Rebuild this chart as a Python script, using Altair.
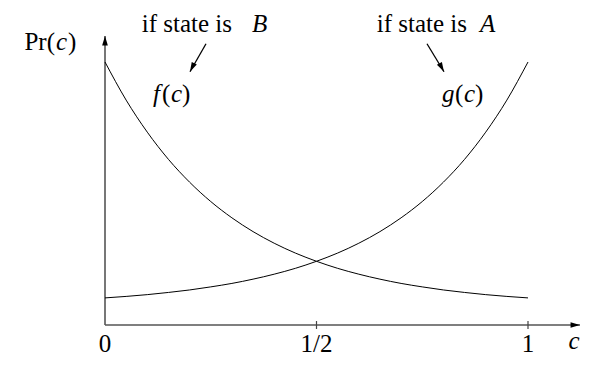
import altair as alt
import pandas as pd

# ---- data ----
c_vals = [0.0, 0.05, 0.1, 0.15, 0.2, 0.25, 0.3, 0.35, 0.4, 0.45, 0.5,
          0.55, 0.6, 0.65, 0.7, 0.75, 0.8, 0.85, 0.9, 0.95, 1.0]
f_vals = [265, 226.6, 194.3, 166.9, 143.9, 124.4, 108.0, 94.1, 82.4, 72.5, 64.2,
          57.1, 51.2, 46.2, 41.9, 38.4, 35.3, 32.8, 30.6, 28.8, 27.3]
g_vals = list(reversed(f_vals))

tick_c = [0.5, 1.0]
tick_label_text = ["0", "1/2", "1"]
tick_label_c = [0.0, 0.5, 1.0]

# text pieces (roman / italic) of the annotations
lab_text = ["if state is", "B", "if state is", "A",
            "Pr(", "c", ")",
            "f", "(", "c", ")",
            "g", "(", "c", ")",
            "c"]
lab_c = [0.3002, 0.3475, 0.8558, 0.8865,
         -0.1182, -0.1158, -0.0875,
         0.1135, 0.1348, 0.1560, 0.1820,
         0.7967, 0.8274, 0.8487, 0.8747,
         1.1087]
lab_v = [295.6, 295.6, 295.6, 295.6,
         277.2, 277.2, 277.2,
         224.8, 224.8, 224.8, 224.8,
         224.8, 224.8, 224.8, 224.8,
         -24.2]
lab_align = ["right", "left", "right", "left",
             "right", "left", "left",
             "left", "left", "left", "left",
             "left", "left", "left", "left",
             "center"]
lab_italic = [False, True, False, True,
              False, True, False,
              True, False, True, False,
              True, False, True, False,
              True]
tick_label_v = -27.2

# annotation arrows (from -> to)
arr_c = [0.2388, 0.7612]
arr_v = [283.4, 283.4]
arr_c2 = [0.2009, 0.8014]
arr_v2 = [255.2, 255.2]
arr_angle = [207, 151]

X_MAX = 1.1230  # end of the c axis (arrow tip)
Y_MAX = 291.3   # end of the Pr axis (arrow tip)

FONT = "Liberation Serif"
FS = 25
W, H = 574, 350
AX = 317          # canvas row of the c axis
K = (AX - 54) / 265
xs = alt.Scale(domain=[-97 / 423, (W - 97) / 423], nice=False, zero=False)
ys = alt.Scale(domain=[-(H - AX) / K, AX / K], nice=False, zero=False)
X = alt.X("c:Q", scale=xs, axis=None)
Y = alt.Y("v:Q", scale=ys, axis=None)

curves = pd.DataFrame({
    "c": c_vals * 2,
    "v": f_vals + g_vals,
    "s": ["f"] * len(c_vals) + ["g"] * len(c_vals),
})
curve_layer = alt.Chart(curves).mark_line(
    color="black", strokeWidth=1, interpolate="monotone"
).encode(x=X, y=Y, detail="s:N")

axes = pd.DataFrame({"c": [0.0, 0.0], "v": [0.0, 0.0],
                     "c2": [0.0, X_MAX], "v2": [Y_MAX, 0.0]})
axis_layer = alt.Chart(axes).mark_rule(color="#555555", strokeWidth=1.6).encode(
    x=X, y=Y, x2="c2:Q", y2="v2:Q")

ticks = pd.DataFrame({"c": tick_c, "v": [-4] * len(tick_c), "v2": [4] * len(tick_c)})
tick_layer = alt.Chart(ticks).mark_rule(color="#444444", strokeWidth=1.2).encode(
    x=X, y=Y, y2="v2:Q")

HEAD = "M0,0 L0.3,1 L-0.3,1 Z"
heads = pd.DataFrame({"c": [0.0, X_MAX] + arr_c2, "v": [Y_MAX, 0.0] + arr_v2,
                      "a": [0, 90] + arr_angle})
head_layer = alt.Chart(heads).mark_point(
    shape=HEAD, filled=True, color="black", size=360, opacity=1
).encode(x=X, y=Y, angle=alt.Angle("a:Q", scale=None))

arrows = pd.DataFrame({"c": arr_c, "v": arr_v, "c2": arr_c2, "v2": arr_v2})
arrow_layer = alt.Chart(arrows).mark_rule(color="black", strokeWidth=1.3).encode(
    x=X, y=Y, x2="c2:Q", y2="v2:Q")

ticklabels = pd.DataFrame({"c": tick_label_c, "v": [tick_label_v] * 3, "t": tick_label_text})
ticklabel_layer = alt.Chart(ticklabels).mark_text(
    align="center", baseline="alphabetic", font=FONT, fontSize=FS, color="black"
).encode(x=X, y=Y, text="t:N")

labels = pd.DataFrame({"c": lab_c, "v": lab_v, "t": lab_text,
                       "al": lab_align, "it": lab_italic})
text_layers = []
for al in ["left", "right", "center"]:
    for it in [False, True]:
        sub = labels[(labels["al"] == al) & (labels["it"] == it)]
        if len(sub) == 0:
            continue
        text_layers.append(
            alt.Chart(sub).mark_text(
                align=al, baseline="alphabetic", font=FONT, fontSize=FS,
                fontStyle="italic" if it else "normal", color="black"
            ).encode(x=X, y=Y, text="t:N")
        )

chart = alt.layer(
    axis_layer, tick_layer, curve_layer, arrow_layer, head_layer,
    ticklabel_layer, *text_layers
).properties(
    width=W, height=H, autosize=alt.AutoSizeParams(type="none"),
    padding=0, background="white"
).configure_view(stroke=None)

chart.save("out.html", embed_options={"renderer": "svg", "actions": False})
